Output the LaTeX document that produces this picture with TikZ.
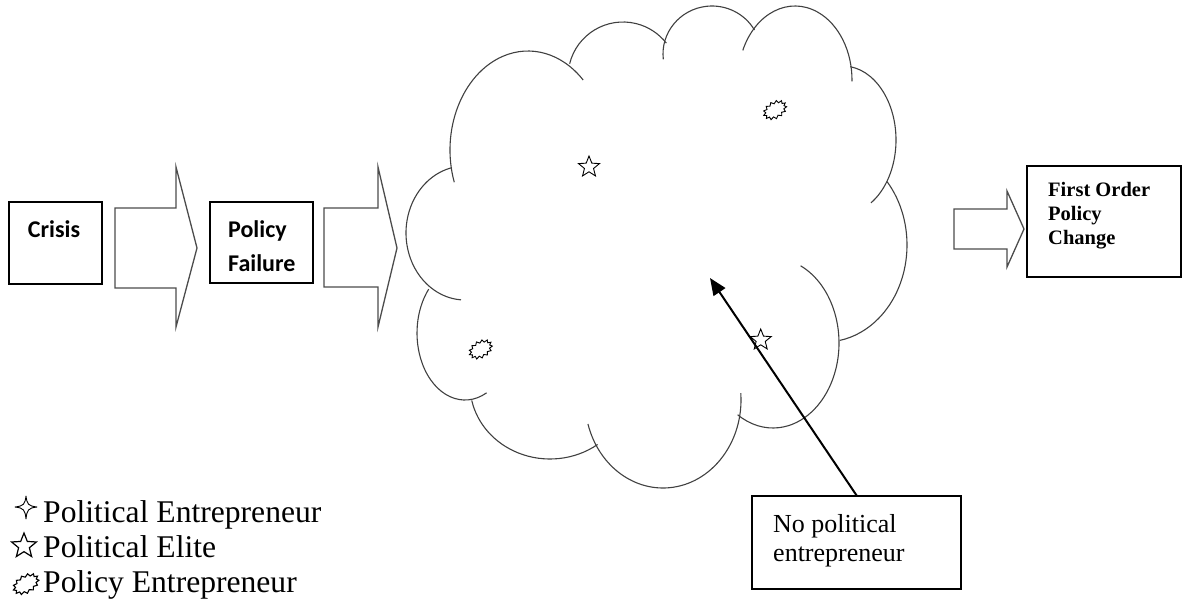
\documentclass[tikz,border=0pt]{standalone}
\usepackage{fontspec}
\setmainfont{Liberation Serif}
\newfontfamily\calfont{Carlito}
\usetikzlibrary{shapes.geometric,shapes.symbols,arrows.meta}
\begin{document}
\begin{tikzpicture}[x=1pt,y=-1pt,
  box/.style={draw, line width=1.4pt, inner sep=0pt},
  blockarrow/.style={draw=black!70, line width=1.3pt, line join=miter},
  cloudline/.style={draw=black!75, line width=1.1pt},
  elite/.style={star, star points=5, star point ratio=2.3, draw, line width=0.9pt, minimum size=22pt, inner sep=0pt},
  burst/.style={starburst, starburst points=13, starburst point height=2.5pt, random starburst=0, draw, line width=0.9pt, minimum width=25pt, minimum height=17pt, inner sep=0pt, rotate=30},
  calbold/.style={font=\calfont\bfseries\fontsize{24}{34}\selectfont, inner sep=0pt},
  fobold/.style={font=\bfseries\fontsize{20.5}{24}\selectfont, inner sep=0pt, anchor=base west},
  nptext/.style={font=\fontsize{26}{30}\selectfont, inner sep=0pt, anchor=base west},
  legtext/.style={font=\fontsize{31.6}{35}\selectfont, inner sep=0pt, anchor=base west},
]
\useasboundingbox (0,0) rectangle (1183,606);

% boxes
\node[box, minimum width=93pt, minimum height=82pt] (crisis) at (55.5,243) {};
\node[calbold, anchor=base] (crisistxt) at (54,237) {Crisis};

\node[box, minimum width=103pt, minimum height=81pt] (failure) at (261.5,242.5) {};
\node[calbold, anchor=base west] (pf1) at (228,237) {Policy};
\node[calbold, anchor=base west] (pf2) at (228,271) {Failure};

\node[box, minimum width=154pt, minimum height=111pt] (change) at (1104,221.5) {};
\node[fobold] (fo1) at (1048,196) {First Order};
\node[fobold] (fo2) at (1048,220) {Policy};
\node[fobold] (fo3) at (1048,244) {Change};

\node[box, minimum width=209pt, minimum height=93pt] (nopol) at (856.5,542.5) {};
\node[nptext] (np1) at (773,532) {No political};
\node[nptext] (np2) at (773,561) {entrepreneur};

% block arrows
\draw[blockarrow] (115,208) -- (176,208) -- (176,167) -- (197,248) -- (176,327) -- (176,288) -- (115,288) -- cycle;
\draw[blockarrow] (324,208) -- (378,208) -- (378,167) -- (397,248) -- (378,327) -- (378,287) -- (324,287) -- cycle;
\draw[blockarrow] (954,209) -- (1007,209) -- (1007,191) -- (1024,229) -- (1007,267) -- (1007,249) -- (954,249) -- cycle;

% cloud (elliptical lobes)
\draw[cloudline] (528,150) ++(161:78 and 99) arc[start angle=161, end angle=315, x radius=78, y radius=99];
\draw[cloudline] (623,77) ++(194:55 and 55) arc[start angle=194, end angle=322, x radius=55, y radius=55];
\draw[cloudline] (712,54) ++(173.7:49 and 48) arc[start angle=173.7, end angle=330, x radius=49, y radius=48];
\draw[cloudline] (795,80) ++(203.6:57 and 74) arc[start angle=203.6, end angle=361, x radius=57, y radius=74];
\draw[cloudline] (843,140) ++(-82.2:53 and 74) arc[start angle=-82.2, end angle=58.2, x radius=53, y radius=74];
\draw[cloudline] (825,245) ++(-40.9:82 and 97) arc[start angle=-40.9, end angle=79.5, x radius=82, y radius=97];
\draw[cloudline] (773,343) ++(-65.3:66 and 85) arc[start angle=-65.3, end angle=122.4, x radius=66, y radius=85];
\draw[cloudline] (663,400) ++(-4.4:78 and 88) arc[start angle=-4.4, end angle=164.2, x radius=78, y radius=88];
\draw[cloudline] (550,385) ++(53.5:80 and 74) arc[start angle=53.5, end angle=168, x radius=80, y radius=74];
\draw[cloudline] (465,333) ++(63.3:48 and 67) arc[start angle=63.3, end angle=220.9, x radius=48, y radius=67];
\draw[cloudline] (465,233) ++(257.2:59 and 67) arc[start angle=257.2, end angle=93.9, x radius=59, y radius=67];

% actors in cloud
\node[elite] (el1) at (589,167) {};
\node[elite] (el2) at (760.7,340) {};
\node[burst] (pe1) at (775,110) {};
\node[burst] (pe2) at (480.7,349.3) {};

% pointer
\coordinate (tip) at (710,278);
\draw[-{Triangle[length=17pt,width=14pt]}, line width=2pt] (nopol.north) -- (tip);

% legend
\draw[line width=0.9pt, line join=round] (26,496) .. controls (27,504) and (28,506) .. (37,507)
  .. controls (28,508) and (27,510) .. (26,519) .. controls (25,510) and (24,508) .. (15,507)
  .. controls (24,506) and (25,504) .. (26,496) -- cycle;
\node[legtext] (lg1) at (43,522) {Political Entrepreneur};
\node[elite, minimum size=26pt, line width=1.2pt] (lgstar) at (24,546) {};
\node[legtext] (lg2) at (43,557) {Political Elite};
\node[burst, minimum width=28pt, minimum height=18pt, line width=1.1pt] (lgburst) at (26,584) {};
\node[legtext] (lg3) at (43,592) {Policy Entrepreneur};
\end{tikzpicture}
\end{document}
